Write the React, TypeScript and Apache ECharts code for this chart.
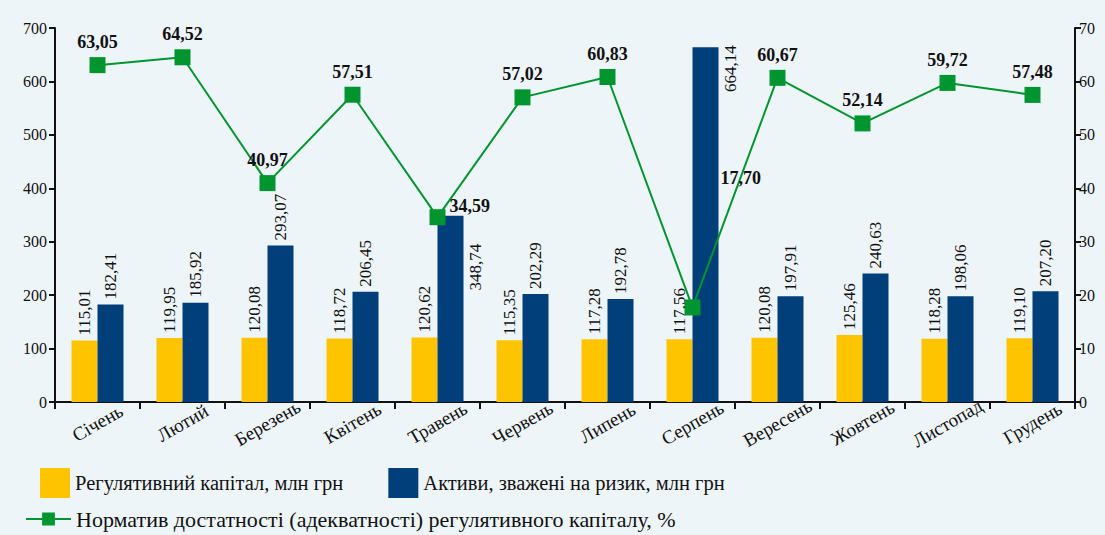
import React, { useEffect, useRef } from "react";
import * as echarts from "echarts";

const months = ["Січень", "Лютий", "Березень", "Квітень", "Травень", "Червень", "Липень", "Серпень", "Вересень", "Жовтень", "Листопад", "Грудень"];
const capital = [115.01, 119.95, 120.08, 118.72, 120.62, 115.35, 117.28, 117.56, 120.08, 125.46, 118.28, 119.10];
const riskAssets = [182.41, 185.92, 293.07, 206.45, 348.74, 202.29, 192.78, 664.14, 197.91, 240.63, 198.06, 207.20];
const adequacy = [63.05, 64.52, 40.97, 57.51, 34.59, 57.02, 60.83, 17.70, 60.67, 52.14, 59.72, 57.48];

const leftTicks = [0, 700, 100];
const rightTicks = [0, 70, 10];

const nameCapital = "Регулятивний капітал, млн грн";
const nameAssets = "Активи, зважені на ризик, млн грн";
const nameAdequacy = "Норматив достатності (адекватності) регулятивного капіталу, %";

const FONT = "Liberation Serif";
const fmt = (v: number) => v.toFixed(2).replace(".", ",");

export default function App() {
  const ref = useRef<HTMLDivElement>(null);
  useEffect(() => {
    document.body.style.margin = "0";
    const chart = echarts.init(ref.current!, undefined, { renderer: "svg" });
    const barLabel = {
      show: true,
      rotate: 90,
      position: "top",
      align: "left",
      verticalAlign: "middle",
      distance: 5,
      fontFamily: FONT,
      fontSize: 17,
      color: "#111",
      formatter: (p: any) => fmt(p.value),
    };
    const assetsData = riskAssets.map((v, i) => {
      if (i === 4) {
        return { value: v, label: { position: [38, 28], align: "right", verticalAlign: "middle" } };
      }
      if (i === 7) {
        return { value: v, label: { position: [38, -2], align: "right", verticalAlign: "middle" } };
      }
      return v;
    });
    const lineData = adequacy.map((v, i) => {
      if (i === 4) {
        return { value: v, label: { position: "right", offset: [-2, -11] } };
      }
      if (i === 7) {
        return { value: v, label: { position: "right", offset: [14, -129] } };
      }
      return v;
    });
    chart.setOption({
      animation: false,
      backgroundColor: "#eef5f9",
      textStyle: { fontFamily: FONT },
      grid: { left: 55, right: 30, top: 28, bottom: 133 },
      legend: [
        {
          data: [nameCapital, nameAssets],
          left: 40,
          top: 468,
          padding: 0,
          itemWidth: 30,
          itemHeight: 30,
          itemGap: 45,
          icon: "rect",
          textStyle: { fontFamily: FONT, fontSize: 20.5, color: "#111" },
        },
        {
          data: [nameAdequacy],
          left: 25,
          top: 508,
          padding: 0,
          itemWidth: 45,
          itemHeight: 16,
          textStyle: { fontFamily: FONT, fontSize: 22, color: "#111" },
        },
      ],
      xAxis: {
        type: "category",
        data: months,
        axisLine: { lineStyle: { color: "#111", width: 2 } },
        axisTick: { show: true, alignWithLabel: false, length: 7, lineStyle: { color: "#111", width: 2 } },
        axisLabel: {
          rotate: 30,
          align: "center",
          verticalAlign: "middle",
          margin: 21,
          fontFamily: FONT,
          fontSize: 19,
          color: "#111",
        },
      },
      yAxis: [
        {
          type: "value",
          min: leftTicks[0],
          max: leftTicks[1],
          interval: leftTicks[2],
          splitLine: { show: false },
          axisLine: { show: true, lineStyle: { color: "#111", width: 2 } },
          axisTick: { show: true, length: 6, lineStyle: { color: "#111", width: 2 } },
          axisLabel: { fontFamily: FONT, fontSize: 16, color: "#111", margin: 8 },
        },
        {
          type: "value",
          min: rightTicks[0],
          max: rightTicks[1],
          interval: rightTicks[2],
          splitLine: { show: false },
          axisLine: { show: true, lineStyle: { color: "#111", width: 2 } },
          axisTick: { show: true, length: 6, lineStyle: { color: "#111", width: 2 } },
          axisLabel: { fontFamily: FONT, fontSize: 16, color: "#111", margin: 4 },
        },
      ],
      series: [
        {
          name: nameCapital,
          type: "bar",
          data: capital,
          barWidth: 26,
          barGap: "0%",
          itemStyle: { color: "#ffc400" },
          label: barLabel,
        },
        {
          name: nameAssets,
          type: "bar",
          data: assetsData,
          barWidth: 26,
          barGap: "0%",
          itemStyle: { color: "#003f7a" },
          label: barLabel,
        },
        {
          name: nameAdequacy,
          type: "line",
          yAxisIndex: 1,
          data: lineData,
          symbol: "rect",
          symbolSize: 16,
          lineStyle: { color: "#00952f", width: 2 },
          itemStyle: { color: "#00952f" },
          label: {
            show: true,
            position: "top",
            distance: 6,
            fontFamily: FONT,
            fontSize: 18,
            fontWeight: "bold",
            color: "#111",
            formatter: (p: any) => fmt(p.value),
          },
          z: 5,
        },
      ],
    });
    return () => chart.dispose();
  }, []);
  return <div ref={ref} style={{ width: 1105, height: 535 }} />;
}
